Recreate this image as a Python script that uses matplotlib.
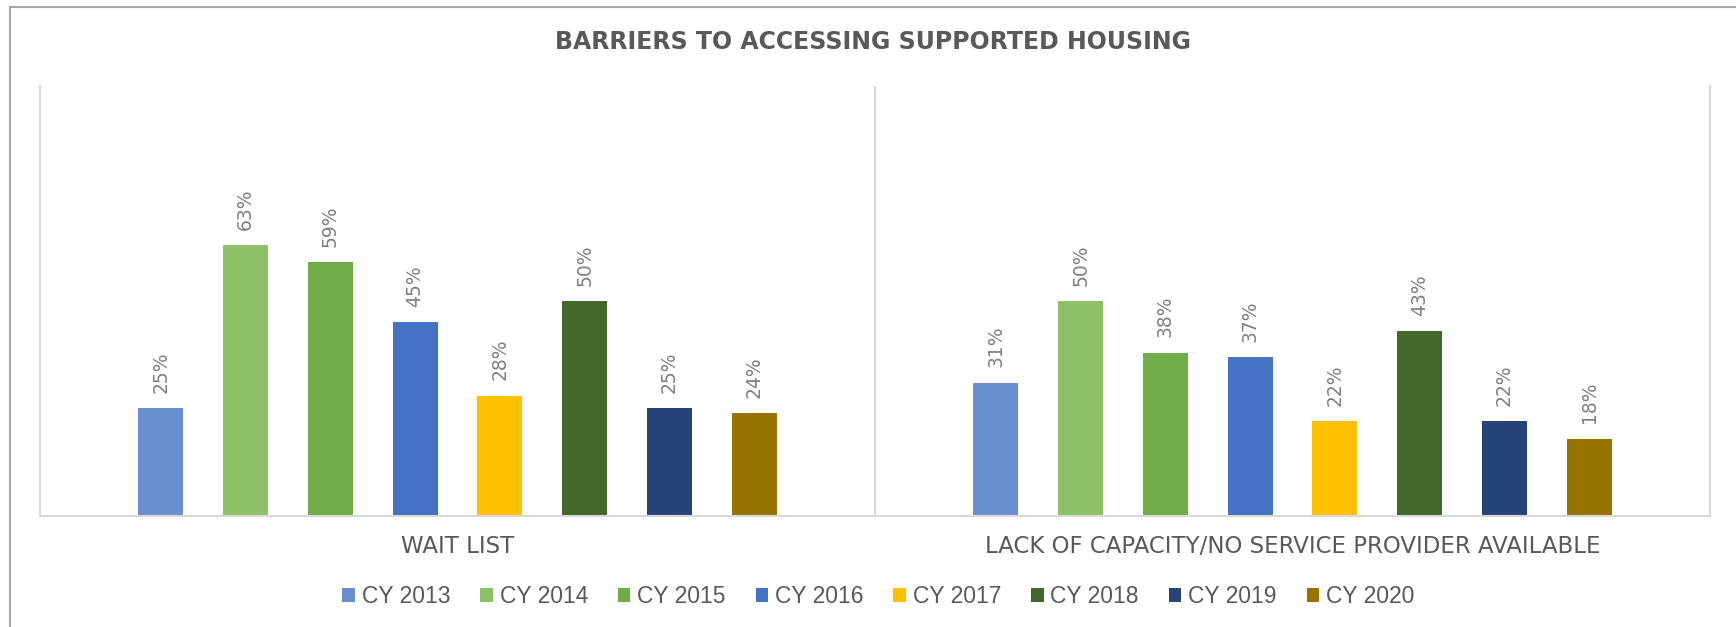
import numpy as np
import matplotlib.pyplot as plt
from matplotlib.patches import Rectangle


CATEGORIES = ["WAIT LIST", "LACK OF CAPACITY/NO SERVICE PROVIDER AVAILABLE"]
YEARS = ["CY 2013", "CY 2014", "CY 2015", "CY 2016",
         "CY 2017", "CY 2018", "CY 2019", "CY 2020"]
WAIT_LIST = [25, 63, 59, 45, 28, 50, 25, 24]
LACK_CAPACITY = [31, 50, 38, 37, 22, 43, 22, 18]
COLORS = ["#698ED0", "#8CC168", "#70AD47", "#4472C4",
          "#FFC000", "#43682B", "#264478", "#997300"]

SLOT = 0.1015
BAR_W = 0.054
TEXT_GRAY = "#595959"
LINE_GRAY = "#d9d9d9"


if __name__ == "__main__":
	fig = plt.figure(figsize=(17.36, 6.27), dpi=100)
	ax = fig.add_axes([0.023, 0.177, 0.962, 0.686])

	x = np.arange(len(CATEGORIES))
	for i, year in enumerate(YEARS):
		vals = [WAIT_LIST[i], LACK_CAPACITY[i]]
		pos = x + (i - 3.5) * SLOT
		bars = ax.bar(pos, vals, width=BAR_W, color=COLORS[i], label=year, zorder=2)
		for b, v in zip(bars, vals):
			ax.annotate(f"{v}%", (b.get_x() + b.get_width() / 2, v),
						xytext=(0, 11), textcoords="offset points",
						rotation=90, ha="center", va="bottom",
						fontsize=13.5, color="#808080")

	ax.set_xlim(-0.5, 1.5)
	ax.set_ylim(0, 100)
	ax.set_yticks([])
	ax.set_xticks(x)
	ax.set_xticklabels(CATEGORIES, fontsize=16.5, color=TEXT_GRAY)
	ax.tick_params(axis="x", length=0, pad=14)

	ax.spines["top"].set_visible(False)
	for side in ["left", "right", "bottom"]:
		ax.spines[side].set_color(LINE_GRAY)
		ax.spines[side].set_linewidth(1.5)
	ax.axvline(0.5, color=LINE_GRAY, linewidth=1.5, zorder=1)

	fig.text(0.503, 0.933, "BARRIERS TO ACCESSING SUPPORTED HOUSING",
			 ha="center", va="center", fontsize=17, fontweight="bold",
			 color=TEXT_GRAY)

	fig.legend(loc="center", bbox_to_anchor=(0.506, 0.049), ncol=8,
			   frameon=False, handlelength=0.55, handleheight=0.55,
			   handletextpad=0.3, columnspacing=1.3,
			   prop={"family": "Liberation Sans", "size": 16.5},
			   labelcolor=TEXT_GRAY)

	# outer frame, only top and left edges are visible in the reference
	fig.patches.append(Rectangle((10 / 1736, -0.5), 2, 1.5 - 7 / 627,
								 transform=fig.transFigure, fill=False,
								 edgecolor="#a6a6a6", linewidth=1.5))

	fig.savefig("out.png", dpi=100)
